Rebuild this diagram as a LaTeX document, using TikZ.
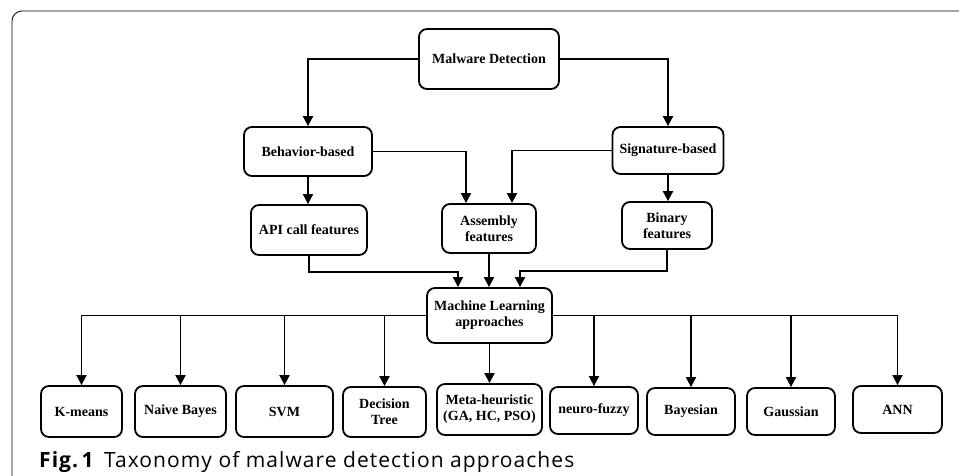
\documentclass[tikz,border=0pt]{standalone}
\usepackage{fontspec}
\setmainfont{Liberation Serif}
\newfontfamily\capfont[LetterSpace=5]{Open Sans}
\usetikzlibrary{arrows.meta}
\begin{document}
\begin{tikzpicture}[x=1pt,y=-1pt,
  box/.style={draw, line width=1.8pt, rounded corners=8pt, align=center, inner sep=0pt,
    font=\fontsize{14}{16}\selectfont\bfseries},
  conn/.style={line width=1.8pt, -{Triangle[length=10pt,width=10pt]}},
  frame/.style={line width=0.8pt, rounded corners=10pt}]
\useasboundingbox (0,0) rectangle (959,476);
\draw[frame] (960,11) -- (12,11) -- (12,477);
% nodes
\node[box, minimum width=140pt, minimum height=60pt] (md) at (489,59) {Malware Detection};
\node[box, minimum width=128pt, minimum height=49pt] (bb) at (308,151.5) {Behavior-based};
\node[box, minimum width=111pt, minimum height=47pt] (sb) at (668,150.5) {Signature-based};
\node[box, minimum width=116pt, minimum height=50pt] (api) at (309,230) {API call features};
\node[box, minimum width=94pt, minimum height=49pt] (asm) at (489,228.5) {Assembly\\features};
\node[box, minimum width=90pt, minimum height=47pt] (bin) at (667,225.5) {Binary\\features};
\node[box, minimum width=125pt, minimum height=55pt] (ml) at (489.5,315.5) {Machine Learning\\approaches};
\node[box, minimum width=81pt, minimum height=51pt] (km) at (81.5,411.5) {K-means};
\node[box, minimum width=91pt, minimum height=51pt] (nb) at (180.5,411.5) {Naive Bayes};
\node[box, minimum width=97pt, minimum height=51pt] (svm) at (284.5,411.5) {SVM};
\node[box, minimum width=83pt, minimum height=50pt] (dt) at (384.5,412) {Decision\\Tree};
\node[box, minimum width=105pt, minimum height=51pt] (mh) at (489.5,409.5) {Meta-heuristic\\(GA, HC, PSO)};
\node[box, minimum width=88pt, minimum height=47pt] (nf) at (594,410.5) {neuro-fuzzy};
\node[box, minimum width=88pt, minimum height=47pt] (bay) at (691,411.5) {Bayesian};
\node[box, minimum width=88pt, minimum height=47pt] (gau) at (791,411.5) {Gaussian};
\node[box, minimum width=89pt, minimum height=47pt] (ann) at (897.5,409.5) {ANN};
% connectors
\draw[conn] (md.west) -| (bb.north);
\draw[conn] (md.east) -| (sb.north);
\draw[conn] (bb.south) -- (bb.south |- api.north);
\draw[conn] (bb.east) -| ([xshift=-23pt]asm.north);
\draw[conn] (sb.west) -| ([xshift=23pt]asm.north);
\draw[conn] (sb.south) -- (sb.south |- bin.north);
\draw[conn] (api.south) |- (400,272) -| ([xshift=-31.5pt]ml.north);
\draw[conn] (asm.south) -- (asm.south |- ml.north);
\draw[conn] (bin.south) |- (600,271) -| ([xshift=30.5pt]ml.north);
\draw[conn] (ml.west) -| (km.north);
\draw[conn] (ml.west) -| (nb.north);
\draw[conn] (ml.west) -| (svm.north);
\draw[conn] (ml.west) -| (dt.north);
\draw[conn] (ml.south) -- (ml.south |- mh.north);
\draw[conn] (ml.east) -| (nf.north);
\draw[conn] (ml.east) -| (bay.north);
\draw[conn] (ml.east) -| (gau.north);
\draw[conn] (ml.east) -| (ann.north);
% caption
\node[anchor=base west, inner sep=0pt, font=\capfont\fontsize{21}{24}\selectfont] (cap) at (39,467.5)
  {\textbf{Fig.\,1}\hspace{0.45em}Taxonomy of malware detection approaches};
\end{tikzpicture}
\end{document}
